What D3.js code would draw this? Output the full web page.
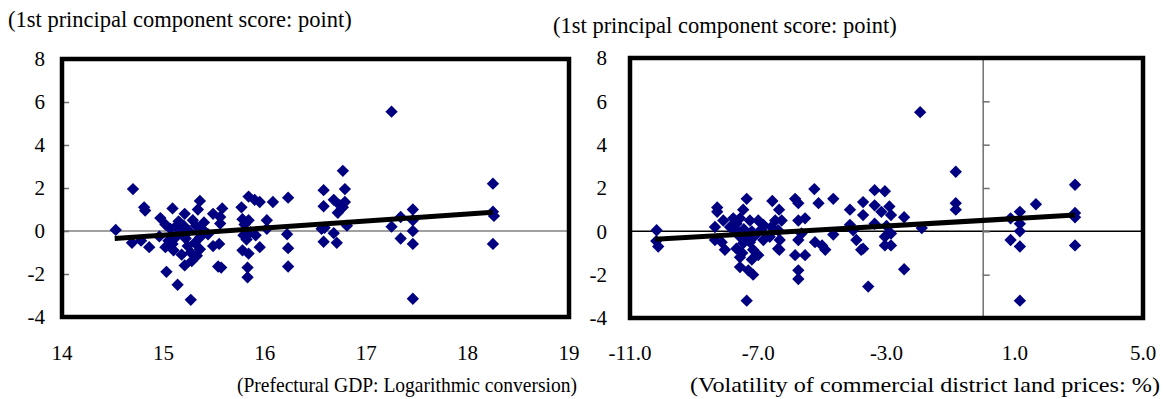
<!DOCTYPE html>
<html>
<head>
<meta charset="utf-8">
<script src="https://d3js.org/d3.v7.min.js"></script>
<style>
    body { margin: 0; background: #fff; }
</style>
</head>
<body>
<svg id="chart" width=1163 height=399></svg>
<script>
// y axis ticks (shared)
var yTicks = [-4, -2, 0, 2, 4, 6, 8];
var yTitle = "(1st principal component score: point)";

// left panel: prefectural GDP (log) vs 1st principal component score
var gdpTicks = [14, 15, 16, 17, 18, 19];
var gdpTitle = "(Prefectural GDP: Logarithmic conversion)";
var gdpPoints = [
    [14.53, 0.05], [14.70, 1.95], [14.69, -0.55], [14.81, 1.1], [14.82, 0.95], [14.86, -0.75],
    [14.97, 0.6], [15.09, 1.05], [15.21, 0.8], [15.36, 1.4], [15.02, -0.75], [15.03, -1.9],
    [15.14, -2.5], [15.27, -3.2], [15.21, -1.6], [15.02, 0.3], [15.07, 0.1], [15.12, -0.3],
    [15.17, -0.1], [15.09, -0.6], [15.29, 0.5], [15.32, 0.25], [15.36, -0.3], [15.31, -0.55],
    [15.27, -1.0], [15.36, -0.85], [15.49, 0.8], [15.49, -0.7], [15.54, -1.65], [15.18, -1.1],
    [15.34, 1.0], [15.25, 0.0], [15.15, 0.45], [15.22, -0.35], [15.40, 0.4], [15.44, -0.15],
    [15.05, -0.45], [15.12, 0.2], [15.20, 0.25], [15.24, -0.7], [15.33, -1.15], [15.28, -1.4],
    [15.10, -0.9], [15.38, 0.1],
    [15.58, 1.05], [15.56, 0.65], [15.56, 0.35], [15.55, -0.6], [15.57, -1.7], [15.77, 1.1],
    [15.84, 1.6], [15.90, 1.45], [15.95, 1.35], [16.08, 1.35], [16.23, 1.55], [15.78, 0.55],
    [15.84, 0.5], [15.79, -0.2], [15.86, -0.05], [16.02, 0.5], [16.02, 0.1], [15.91, -0.2],
    [15.95, -0.75], [15.78, -0.9], [15.84, -1.05], [15.83, -1.7], [15.83, -2.15], [16.22, -0.15],
    [16.23, -0.8], [16.23, -1.65], [15.80, 0.3], [15.82, -0.4], [14.78, -0.45], [14.96, -0.25],
    [16.58, 1.9], [16.58, 1.15], [16.56, 0.1], [16.58, -0.5], [16.68, 1.45], [16.77, 2.8],
    [16.79, 1.95], [16.79, 1.35], [16.77, 1.1], [16.72, 0.85], [16.81, 0.25], [16.59, 0.15],
    [16.68, -0.1], [16.71, -0.55], [16.74, 1.2], [17.25, 5.55], [17.25, 0.2], [17.34, 0.65],
    [17.34, -0.35], [17.46, 1.0], [17.46, 0.5], [17.46, 0.0], [17.46, -0.6], [17.46, -3.15],
    [18.25, 2.2], [18.25, 0.9], [18.26, 0.7], [18.25, -0.6]
];
var gdpTrend = [[14.52, -0.35], [18.25, 0.87]];

// right panel: volatility of commercial district land prices vs score
var landTicks = [-11, -7, -3, 1, 5];
var landTitle = "(Volatility of commercial district land prices: %)";
var landPoints = [
    [-10.17, 0.05], [-10.12, -0.7], [-10.18, -0.45], [-8.28, 1.1], [-8.28, 0.9], [-8.35, 0.2],
    [-8.35, -0.4], [-8.04, -0.85], [-8.14, -0.5], [-8.09, 0.5], [-7.78, 0.6], [-7.36, 1.5],
    [-7.47, 1.0], [-7.57, 0.6], [-7.68, 0.35], [-7.88, 0.2], [-7.26, 0.5], [-7.0, 0.5],
    [-6.84, 0.3], [-7.57, -0.25], [-7.47, -0.55], [-7.68, -0.8], [-7.26, -0.5], [-7.16, -0.85],
    [-7.57, -1.2], [-7.57, -1.65], [-7.31, -1.8], [-7.16, -2.0], [-7.36, -3.2], [-7.0, -1.1],
    [-6.84, -0.4], [-7.45, 0.1], [-7.2, 0.0], [-7.6, -0.05], [-7.4, -0.3], [-7.1, -0.2],
    [-7.5, -1.0], [-6.9, 0.1], [-7.7, 0.0], [-7.2, -1.3],
    [-6.56, 1.4], [-6.35, 1.0],
    [-6.47, 0.5], [-6.27, 0.5], [-6.59, 0.2], [-6.38, 0.05], [-6.64, -0.25], [-6.33, -0.4],
    [-6.38, -0.8], [-6.34, -0.85], [-5.85, 1.5], [-5.75, 1.3], [-5.75, 0.5], [-5.54, 0.6],
    [-5.75, -0.4], [-5.65, -0.1], [-5.85, -1.1], [-5.54, -1.1], [-5.75, -1.8], [-5.75, -2.2],
    [-5.25, 1.95], [-5.12, 1.3], [-4.66, 1.5], [-5.23, -0.5], [-5.01, -0.65], [-4.91, -0.85],
    [-4.66, -0.15], [-4.14, 1.0], [-4.14, 0.3], [-4.04, 0.05], [-3.94, -0.4], [-3.79, -0.85],
    [-3.73, 1.35], [-3.73, 0.75], [-3.37, 1.9], [-3.05, 1.85], [-3.37, 1.2], [-3.16, 0.9],
    [-2.91, 1.15], [-2.86, 0.75], [-3.57, -2.55], [-3.05, -0.25], [-3.05, -0.65], [-2.86, -0.65],
    [-3.37, 0.35], [-3.0, 0.25], [-2.86, -0.1], [-3.73, -0.8], [-2.45, 0.65], [-2.45, -1.75],
    [-1.95, 5.5], [-1.9, 0.15], [-0.84, 2.75], [-0.84, 1.3], [-0.84, 1.0], [0.87, 0.6],
    [1.16, 0.9], [1.16, 0.35], [1.16, 0.0], [0.87, -0.4], [1.16, -0.7], [1.16, -3.2],
    [1.66, 1.25], [2.88, 2.15], [2.88, 0.85], [2.88, 0.65], [2.88, -0.65]
];
var landTrend = [[-10.22, -0.37], [2.88, 0.75]];

var svg = d3.select("#chart");
var FONT = "Liberation Serif";

function drawPanel(opt) {
    var x = d3.scaleLinear().domain(opt.xDomain).range([opt.left, opt.right]);
    var y = d3.scaleLinear().domain([-4, 8]).range([opt.bottom, opt.top]);
    var g = svg.append("g");

    // y title
    g.append("text")
        .attr("x", opt.yTitleX).attr("y", opt.yTitleY)
        .attr("font-family", FONT).attr("font-size", 22.5)
        .text(yTitle);

    // horizontal zero line
    g.append("line")
        .attr("x1", opt.left).attr("x2", opt.right)
        .attr("y1", y(0)).attr("y2", y(0))
        .attr("stroke", opt.zeroColor).attr("stroke-width", 1.5);

    // vertical axis with inner ticks
    var axisX = x(opt.yAxisAt);
    var yAxis = d3.axisRight(y).tickValues(yTicks).tickSize(7).tickFormat("");
    var ya = g.append("g").attr("transform", "translate(" + axisX + ",0)").call(yAxis);
    ya.select(".domain").attr("stroke", "#707070").attr("stroke-width", 1.5);
    ya.selectAll(".tick line").attr("stroke", "#707070").attr("stroke-width", 1.5);

    // y tick labels on the left
    g.selectAll(".ylab").data(yTicks).enter().append("text")
        .attr("x", opt.left - opt.yLabelGap).attr("y", function(d) { return y(d); })
        .attr("dy", "0.35em")
        .attr("text-anchor", "end")
        .attr("font-family", FONT).attr("font-size", 21)
        .text(function(d) { return String(d); });

    // x tick labels at the bottom
    g.selectAll(".xlab").data(opt.xTicks).enter().append("text")
        .attr("x", function(d) { return x(d); }).attr("y", 360)
        .attr("text-anchor", "middle")
        .attr("font-family", FONT).attr("font-size", 21)
        .text(function(d) { return opt.xFormat(d); });

    // x title, fitted to the width it has in the original
    g.append("text")
        .attr("x", opt.xTitleX - opt.xTitleW).attr("y", 392)
        .attr("font-family", FONT).attr("font-size", 22)
        .attr("textLength", opt.xTitleW).attr("lengthAdjust", "spacingAndGlyphs")
        .text(opt.xTitle);

    // points
    g.selectAll(".pt").data(opt.points).enter().append("path")
        .attr("d", d3.symbol().type(d3.symbolSquare).size(76))
        .attr("transform", function(d) { return "translate(" + x(d[0]) + "," + y(d[1]) + ") rotate(45)"; })
        .attr("fill", "#000080");

    // trend line
    g.append("path")
        .datum(opt.trend)
        .attr("d", d3.line().x(function(d) { return x(d[0]); }).y(function(d) { return y(d[1]); }))
        .attr("stroke", "#000").attr("stroke-width", 5).attr("fill", "none");

    // frame
    g.append("rect")
        .attr("x", opt.left).attr("y", opt.top)
        .attr("width", opt.right - opt.left).attr("height", opt.bottom - opt.top)
        .attr("fill", "none").attr("stroke", "#000").attr("stroke-width", 4.5);
}

drawPanel({
    left: 62, right: 569, top: 59, bottom: 317,
    xDomain: [14, 19], xTicks: gdpTicks, xFormat: function(d) { return String(d); },
    yAxisAt: 14, zeroColor: "#808080", yLabelGap: 17,
    yTitleX: 8, yTitleY: 27,
    xTitle: gdpTitle, xTitleX: 577, xTitleW: 340,
    points: gdpPoints, trend: gdpTrend
});

drawPanel({
    left: 630, right: 1143, top: 58, bottom: 318,
    xDomain: [-11, 5], xTicks: landTicks, xFormat: function(d) { return d.toFixed(1); },
    yAxisAt: 0, zeroColor: "#000", yLabelGap: 23,
    yTitleX: 553, yTitleY: 33,
    xTitle: landTitle, xTitleX: 1160, xTitleW: 470,
    points: landPoints, trend: landTrend
});
</script>
</body>
</html>
